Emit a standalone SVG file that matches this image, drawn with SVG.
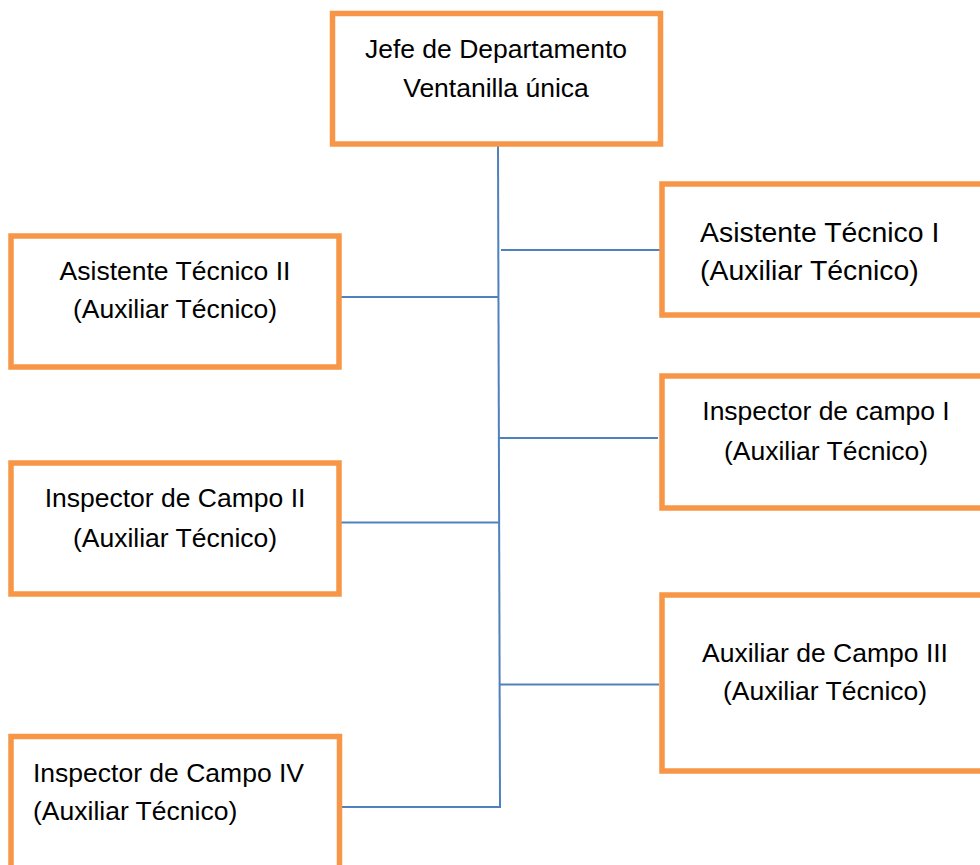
<svg xmlns="http://www.w3.org/2000/svg" width="980" height="865" viewBox="0 0 980 865">
<style>
.box{fill:#FFFFFF;stroke:#F79646;stroke-width:5.5}
.t{font-family:"Liberation Sans",Arial,sans-serif;font-size:26.5px;fill:#000000}
.c{text-anchor:middle}
.big{font-size:28.4px}
.conn line{stroke:#4F81BD;stroke-width:2;fill:none}
</style>
<rect x="0" y="0" width="980" height="865" fill="#FFFFFF"/>
<g class="conn" id="connectors">
<line x1="498" y1="146" x2="500" y2="808"/>
<line x1="501" y1="250" x2="660" y2="250"/>
<line x1="341" y1="297" x2="499" y2="297"/>
<line x1="499" y1="438" x2="658" y2="438"/>
<line x1="341" y1="522.5" x2="499.5" y2="522.5"/>
<line x1="499.5" y1="684.5" x2="659" y2="684.5"/>
<line x1="342" y1="807" x2="501" y2="807"/>
</g>
<g id="jefe">
<rect class="box" x="332.5" y="13.5" width="328" height="130.5"/>
<text class="t c" x="496" y="58">Jefe de Departamento</text>
<text class="t c" x="496" y="97">Ventanilla única</text>
</g>
<g id="asistente1">
<rect class="box" x="662" y="184" width="330" height="131"/>
<text class="t big" x="700" y="242">Asistente Técnico I</text>
<text class="t big" x="700" y="280">(Auxiliar Técnico)</text>
</g>
<g id="asistente2">
<rect class="box" x="11" y="236" width="328" height="131"/>
<text class="t c" x="175" y="280">Asistente Técnico II</text>
<text class="t c" x="175" y="318">(Auxiliar Técnico)</text>
</g>
<g id="inspector1">
<rect class="box" x="662" y="376" width="330" height="132"/>
<text class="t c" x="826" y="420">Inspector de campo I</text>
<text class="t c" x="826" y="460">(Auxiliar Técnico)</text>
</g>
<g id="inspector2">
<rect class="box" x="11" y="463" width="328" height="131"/>
<text class="t c" x="175" y="507">Inspector de Campo II</text>
<text class="t c" x="175" y="547">(Auxiliar Técnico)</text>
</g>
<g id="auxiliar3">
<rect class="box" x="662" y="595" width="330" height="176"/>
<text class="t c" x="825" y="662">Auxiliar de Campo III</text>
<text class="t c" x="825" y="700">(Auxiliar Técnico)</text>
</g>
<g id="inspector4">
<rect class="box" x="11" y="736.5" width="328.5" height="150"/>
<text class="t" x="33" y="782">Inspector de Campo IV</text>
<text class="t" x="33" y="820">(Auxiliar Técnico)</text>
</g>
</svg>
